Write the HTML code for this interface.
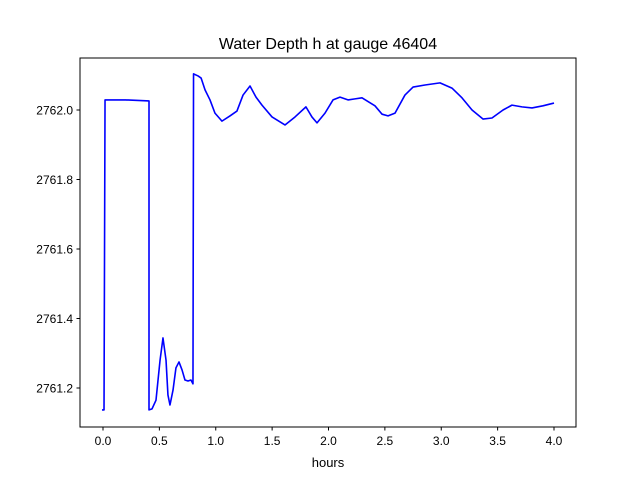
<!DOCTYPE html>
<html><head><meta charset="utf-8"><style>
body{margin:0;background:#fff}
svg{display:block;font-family:"Liberation Sans","DejaVu Sans",sans-serif}
</style></head><body>
<svg id="c" width="640" height="480">
<rect width="640" height="480" fill="#fff"/>
<text x="328" y="49" text-anchor="middle" font-size="16">Water Depth h at gauge 46404</text>
<text x="328" y="467" text-anchor="middle" font-size="13">hours</text>
<g id="g"></g>
<rect x="80" y="58" width="496" height="369" fill="none" stroke="#000" stroke-width="1"/>
</svg>
<script>
const hours=[-0.009,0.009,0.018,0.2,0.408,0.408,0.435,0.47,0.506,0.532,0.559,0.576,0.594,0.621,0.647,0.674,0.701,0.727,0.754,0.78,0.798,0.803,0.843,0.87,0.905,0.949,0.993,1.055,1.126,1.188,1.242,1.304,1.357,1.41,1.499,1.614,1.703,1.8,1.853,1.898,1.969,2.04,2.102,2.173,2.235,2.297,2.412,2.475,2.528,2.59,2.678,2.75,2.856,2.989,3.095,3.184,3.273,3.37,3.45,3.548,3.627,3.716,3.805,3.902,4.0];
const depth=[2761.137,2761.137,2762.029,2762.029,2762.026,2761.137,2761.14,2761.165,2761.28,2761.344,2761.28,2761.18,2761.151,2761.194,2761.258,2761.275,2761.252,2761.223,2761.22,2761.223,2761.212,2762.104,2762.098,2762.092,2762.058,2762.029,2761.991,2761.968,2761.983,2761.997,2762.043,2762.069,2762.037,2762.014,2761.98,2761.957,2761.98,2762.009,2761.98,2761.963,2761.991,2762.029,2762.037,2762.029,2762.032,2762.035,2762.012,2761.988,2761.983,2761.991,2762.043,2762.066,2762.072,2762.078,2762.063,2762.035,2762.0,2761.974,2761.977,2762.0,2762.014,2762.009,2762.006,2762.012,2762.02];
const xTicks=[0,0.5,1,1.5,2,2.5,3,3.5,4];
const yTicks=[2761.2,2761.4,2761.6,2761.8,2762.0];
const X=h=>103+h*112.75;
const Y=v=>110-(v-2762.0)*347.5;
const NS="http://www.w3.org/2000/svg";
const g=document.getElementById('g');
function mk(t,a){const e=document.createElementNS(NS,t);for(const k in a)e.setAttribute(k,a[k]);g.appendChild(e);return e;}
xTicks.forEach(t=>{
 const l=mk('line',{x1:X(t),x2:X(t),y1:427,y2:430.5,stroke:'#000'});
 
 
 const s=mk('text',{x:X(t),y:445,'text-anchor':'middle','font-size':'12'});
 s.textContent=t.toFixed(1);
 
 
});
yTicks.forEach(t=>{
 const l=mk('line',{x1:76.5,x2:80,y1:Y(t),y2:Y(t),stroke:'#000'});
 
 
 const s=mk('text',{x:73,y:Y(t)+4.5,'text-anchor':'end','font-size':'12'});
 s.textContent=t.toFixed(1);
 
 
});
const p=mk('polyline',{points:hours.map((h,i)=>X(h)+','+Y(depth[i])).join(' '),fill:'none',stroke:'#0000ff','stroke-width':'1.6','stroke-linejoin':'round'});


</script>
</body></html>
